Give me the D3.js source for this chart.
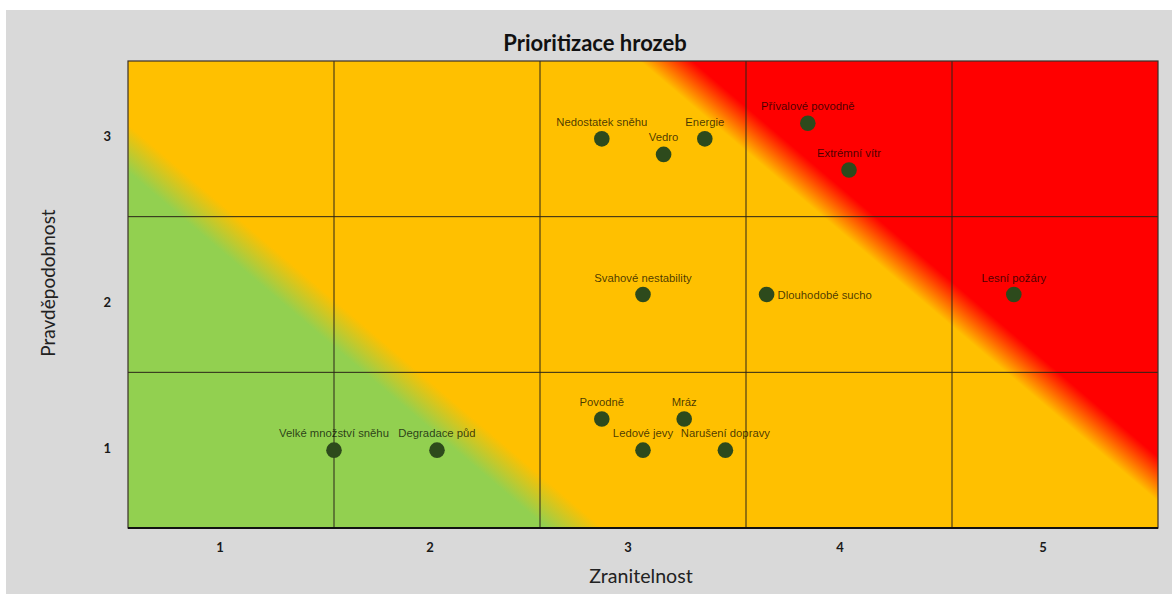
<!DOCTYPE html>
<html><head><meta charset="utf-8">
<script src="https://cdn.jsdelivr.net/npm/d3@7"></script>
<style>body{margin:0;background:#fff}svg{display:block}</style>
</head><body>
<svg id="c" width="1172" height="594"></svg>
<script>
// ---- data ----
const xTickLabels = ["1","2","3","4","5"];
const yTickLabels = ["1","2","3"];
const threatNames = ["Velké množství sněhu","Degradace půd","Povodně","Mráz","Ledové jevy","Narušení dopravy",
  "Svahové nestability","Dlouhodobé sucho","Lesní požáry","Nedostatek sněhu","Vedro","Energie",
  "Přívalové povodně","Extrémní vítr"];
const vulnerability = [1.5, 2.0, 2.8, 3.2, 3.0, 3.4, 3.0, 3.6, 4.8, 2.8, 3.1, 3.3, 3.8, 4.0];
const probability   = [1.0, 1.0, 1.2, 1.2, 1.0, 1.0, 2.0, 2.0, 2.0, 3.0, 2.9, 3.0, 3.1, 2.8];
const labelRight    = ["Dlouhodobé sucho"];

const svg = d3.select("#c");
svg.append("rect").attr("x",6).attr("y",10).attr("width",1166).attr("height",584).attr("fill","#d9d9d9");

const L=128,R=1158,T=61,B=528;
const x = d3.scaleLinear().domain([0.5,5.5]).range([L,R]);
const y = d3.scaleLinear().domain([0.5,3.5]).range([B,T]);

// background gradient (zones)
const n=[0.6477,-0.7619];
const t0=-100,t1=450;
const defs=svg.append("defs");
const g=defs.append("linearGradient").attr("id","zones").attr("gradientUnits","userSpaceOnUse")
  .attr("x1",t0*n[0]).attr("y1",t0*n[1]).attr("x2",t1*n[0]).attr("y2",t1*n[1]);
const off=t=>(t-t0)/(t1-t0);
[[-48,"#92d050"],[-12,"#ffc000"],[368,"#ffc000"],[402,"#ff0000"]].forEach(([t,c])=>
  g.append("stop").attr("offset",off(t)).attr("stop-color",c));
svg.append("rect").attr("x",L).attr("y",T).attr("width",R-L).attr("height",B-T).attr("fill","url(#zones)");

// grid
const gx=[1.5,2.5,3.5,4.5], gy=[1.5,2.5];
svg.selectAll(".vg").data(gx).join("line").attr("x1",d=>x(d)).attr("x2",d=>x(d)).attr("y1",T).attr("y2",B)
  .attr("stroke","#2b2418").attr("stroke-width",1);
svg.selectAll(".hg").data(gy).join("line").attr("y1",d=>y(d)).attr("y2",d=>y(d)).attr("x1",L).attr("x2",R)
  .attr("stroke","#2b2418").attr("stroke-width",1);
svg.append("rect").attr("x",L).attr("y",T).attr("width",R-L).attr("height",B-T)
  .attr("fill","none").attr("stroke","#3a3028").attr("stroke-width",1.2);
svg.append("line").attr("x1",L).attr("x2",R).attr("y1",B).attr("y2",B).attr("stroke","#111").attr("stroke-width",2);

// tick labels
const xTickShift=[-11,-7,-15,-9,-12];
svg.selectAll(".xt").data(xTickLabels).join("text").attr("x",(d,i)=>x(i+1)+xTickShift[i]).attr("y",552)
  .attr("text-anchor","middle").attr("font-family","Lato, sans-serif").attr("font-weight","bold")
  .attr("font-size",13).attr("fill","#1a1a1a").text(d=>d);
svg.selectAll(".yt").data(yTickLabels).join("text").attr("x",111).attr("y",(d,i)=>y(i+1)+[3,12,2][i])
  .attr("text-anchor","end").attr("font-family","Lato, sans-serif").attr("font-weight","bold")
  .attr("font-size",13).attr("fill","#1a1a1a").text(d=>d);

// titles
svg.append("text").attr("x",595).attr("y",51).attr("text-anchor","middle").attr("font-family","Lato, sans-serif")
  .attr("font-weight","bold").attr("font-size",22).attr("fill","#111").text("Prioritizace hrozeb");
svg.append("text").attr("x",641).attr("y",583).attr("text-anchor","middle").attr("font-family","Lato, sans-serif")
  .attr("font-size",19.6).attr("fill","#222").text("Zranitelnost");
svg.append("text").attr("transform","translate(55,283) rotate(-90)").attr("text-anchor","middle")
  .attr("font-family","Lato, sans-serif").attr("font-size",19).attr("fill","#222").text("Pravděpodobnost");

// points
const pts = threatNames.map((name,i)=>({name,vx:vulnerability[i],py:probability[i]}));
svg.selectAll(".pt").data(pts).join("circle").attr("cx",d=>x(d.vx)).attr("cy",d=>y(d.py)).attr("r",7.8)
  .attr("fill","#2d4a1c");
svg.selectAll(".lb").data(pts).join("text")
  .attr("x",d=>labelRight.includes(d.name)?x(d.vx)+11:x(d.vx))
  .attr("y",d=>labelRight.includes(d.name)?y(d.py)+4:y(d.py)-13)
  .attr("text-anchor",d=>labelRight.includes(d.name)?"start":"middle")
  .attr("font-family","Liberation Sans, Arial, sans-serif").attr("font-size",11.3)
  .attr("fill","#000").attr("fill-opacity",0.72).text(d=>d.name);
</script>
</body></html>
